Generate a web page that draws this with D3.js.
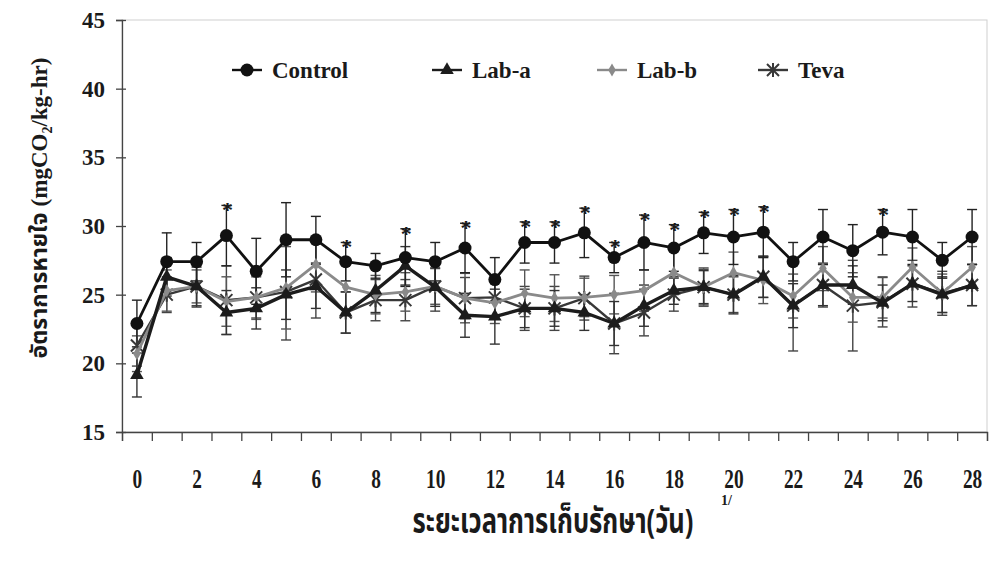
<!DOCTYPE html>
<html>
<head>
<meta charset="utf-8">
<script src="https://cdn.jsdelivr.net/npm/d3@7"></script>
<style>
  body { margin: 0; background: #fff; }
  svg text { font-weight: 700; fill: #1a1a1a; }
</style>
</head>
<body>
<div id="chart"></div>
<script>
var days = [0,1,2,3,4,5,6,7,8,9,10,11,12,13,14,15,16,17,18,19,20,21,22,23,24,25,26,27,28];
var xLabels = [0,2,4,6,8,10,12,14,16,18,20,22,24,26,28];
var yTicks = [15,20,25,30,35,40,45];

var control    = [22.9,27.4,27.4,29.3,26.7,29.0,29.0,27.4,27.1,27.7,27.4,28.4,26.1,28.8,28.8,29.5,27.7,28.8,28.4,29.5,29.2,29.55,27.4,29.2,28.2,29.55,29.2,27.5,29.2];
var controlErr = [1.7,2.1,1.4,2.2,2.4,2.7,1.7,1.4,0.9,2.1,1.4,1.8,1.6,1.5,1.5,1.8,1.1,2.0,1.7,1.5,2.0,1.85,1.4,2.0,1.9,1.65,2.0,1.3,2.0];
var labA       = [19.15,26.3,25.6,23.7,24.0,25.0,25.6,23.7,25.3,27.1,25.55,23.5,23.4,24.0,24.0,23.7,22.9,24.2,25.3,25.55,25.0,26.3,24.2,25.7,25.7,24.4,25.8,25.0,25.7];
var labAErr    = [1.6,1.4,1.5,1.6,1.5,1.8,1.6,1.5,1.6,1.4,1.4,1.6,2.0,1.4,1.3,1.3,1.6,1.5,1.0,1.2,1.4,1.5,1.6,1.5,1.4,1.3,1.3,1.3,1.5];
var labB       = [20.7,25.3,25.6,24.5,24.8,25.5,27.2,25.55,25.0,25.2,25.6,24.75,24.4,25.1,24.75,24.8,25.0,25.3,26.6,25.55,26.6,26.05,24.9,26.9,24.8,24.8,27.0,25.1,27.0];
var labBErr    = [1.3,1.5,1.2,1.8,1.6,3.0,2.0,1.6,1.4,1.4,1.3,1.8,1.5,1.7,1.7,1.4,1.4,1.5,1.6,1.4,1.5,1.7,1.6,1.6,1.8,1.5,1.4,1.4,1.5];
var teva       = [21.3,25.0,25.6,24.6,24.8,25.2,26.1,23.7,24.6,24.6,25.6,24.75,24.8,24.0,24.0,24.75,22.9,23.7,25.0,25.55,25.0,26.3,24.2,25.7,24.2,24.45,25.8,25.1,25.7];
var tevaErr    = [1.5,1.3,1.4,2.5,1.5,3.5,2.8,1.5,1.5,1.5,1.8,1.5,1.6,1.6,1.6,1.6,2.2,1.7,1.2,1.3,1.3,1.5,3.3,1.6,3.3,1.8,1.7,1.6,1.5];
var sigDays    = [3,7,9,11,13,14,15,16,17,18,19,20,21,25];

var serif = "Liberation Serif";
var thai = "'Noto Sans Thai', 'Loma', 'Garuda', 'Noto Sans', sans-serif";

var margin = {top: 20, left: 122},
    width = 865,
    height = 412;

var svg = d3.select("#chart").append("svg")
    .attr("width", 989)
    .attr("height", 564);

var g = svg.append("g").attr("transform", `translate(${margin.left},${margin.top})`);

var x = d3.scaleLinear().domain([-0.5, 28.5]).range([0, width]);
var y = d3.scaleLinear().domain([15, 45]).range([height, 0]);

// light plot-area border
g.append("rect")
    .attr("width", width).attr("height", height)
    .attr("fill", "none").attr("stroke", "#cfcfcf").attr("stroke-width", 1);

// x axis, ticks between categories
var bounds = days.map(function(d){ return d - 0.5; }).concat([28.5]);
g.append("g")
    .attr("transform", `translate(0,${height})`)
    .call(d3.axisBottom(x).tickValues(bounds).tickSize(9).tickFormat(""))
    .call(function(a){ a.selectAll("line,path").attr("stroke", "#444").attr("stroke-width", 1.3); });

var xl = g.append("g")
    .attr("transform", `translate(0,${height})`)
    .call(d3.axisBottom(x).tickValues(xLabels).tickSize(0).tickPadding(0));
xl.select(".domain").remove();
xl.attr("font-family", serif);
xl.selectAll("text")
    .attr("font-size", 21).attr("dy", 0)
    .attr("transform", "translate(0,56) scale(0.92,1.3)");

// y axis
var ya = g.append("g")
    .call(d3.axisLeft(y).tickValues(yTicks).tickSize(6).tickPadding(11));
ya.attr("font-family", serif);
ya.selectAll("line,path").attr("stroke", "#444").attr("stroke-width", 1.3);
ya.selectAll(".tick").append("line").attr("x1", 0).attr("x2", 4).attr("stroke", "#444").attr("stroke-width", 1.3);
ya.selectAll("text").attr("font-size", 23);

var series = [
    {name: "Control", values: control, err: controlErr, color: "#111", width: 2.8, marker: "circle", errColor: "#222"},
    {name: "Lab-a", values: labA, err: labAErr, color: "#1c1c1c", width: 3.4, marker: "triangle", errColor: "#333"},
    {name: "Lab-b", values: labB, err: labBErr, color: "#8a8a8a", width: 2.8, marker: "diamond", errColor: "#555"},
    {name: "Teva", values: teva, err: tevaErr, color: "#383838", width: 2.4, marker: "asterisk", errColor: "#444"}
];

var line = d3.line()
    .x(function(d, i){ return x(days[i]); })
    .y(function(d){ return y(d); });

function drawMarker(sel, type, color) {
    if (type === "circle") {
        sel.append("circle").attr("r", 6.5).attr("fill", color);
    } else if (type === "triangle") {
        sel.append("path").attr("d", d3.symbol(d3.symbolTriangle, 80)()).attr("fill", color);
    } else if (type === "diamond") {
        sel.append("path").attr("d", d3.symbol(d3.symbolDiamond, 50)()).attr("fill", color);
    } else {
        sel.append("path").attr("d", "M-6,-6L6,6M-6,6L6,-6M0,-7L0,7")
            .attr("stroke", color).attr("stroke-width", 2).attr("fill", "none");
    }
}

// error bars under the lines
series.slice().reverse().forEach(function(s){
    var eb = g.append("g");
    s.values.forEach(function(v, i){
        var cx = x(days[i]), e = s.err[i];
        eb.append("line").attr("x1", cx).attr("x2", cx).attr("y1", y(v - e)).attr("y2", y(v + e))
            .attr("stroke", s.errColor).attr("stroke-width", 1.4);
        [v - e, v + e].forEach(function(t){
            eb.append("line").attr("x1", cx - 5).attr("x2", cx + 5).attr("y1", y(t)).attr("y2", y(t))
                .attr("stroke", s.errColor).attr("stroke-width", 1.4);
        });
    });
});

series.slice().reverse().forEach(function(s){
    g.append("path").datum(s.values)
        .attr("fill", "none").attr("stroke", s.color).attr("stroke-width", s.width)
        .attr("stroke-linejoin", "round")
        .attr("d", line);
    g.selectAll(null).data(s.values).enter().append("g")
        .attr("transform", function(d, i){ return `translate(${x(days[i])},${y(d)})`; })
        .each(function(){ drawMarker(d3.select(this), s.marker, s.color); });
});

// significance marks over Control
g.selectAll(".star").data(sigDays).enter().append("text")
    .attr("class", "star")
    .attr("x", function(d){ return x(d) + 1; })
    .attr("y", function(d){ return y(control[d] + controlErr[d]) + 12; })
    .attr("text-anchor", "middle")
    .attr("font-size", 22)
    .attr("font-family", serif)
    .text("*");

// legend
var legendX = [232, 432, 597, 758];
var lg = svg.append("g").attr("transform", "translate(0,70)");
series.forEach(function(s, i){
    var it = lg.append("g").attr("transform", `translate(${legendX[i]},0)`);
    it.append("line").attr("x1", 0).attr("x2", 30).attr("stroke", s.color).attr("stroke-width", 2.4);
    var m = it.append("g").attr("transform", "translate(15,0)");
    drawMarker(m, s.marker, s.color);
    it.append("text").attr("x", 40).attr("y", 8).attr("font-size", 23)
        .attr("font-family", serif).text(s.name);
});

// axis titles
svg.append("text")
    .attr("transform", "translate(553,533) scale(0.88,1.2)")
    .attr("text-anchor", "middle")
    .attr("font-size", 29)
    .attr("font-family", thai)
    .text("ระยะเวลาการเก็บรักษา(วัน)");
svg.append("text")
    .attr("x", 721).attr("y", 505)
    .attr("font-size", 14)
    .attr("font-family", serif)
    .text("1/");

var yt = svg.append("text")
    .attr("transform", "translate(47,208) rotate(-90)")
    .attr("text-anchor", "middle")
    .attr("font-size", 23);
yt.append("tspan").attr("font-family", thai).text("อัตราการหายใจ ");
yt.append("tspan").attr("font-family", serif).text("(mgCO");
yt.append("tspan").attr("font-family", serif).attr("font-size", 14).attr("dy", 5).text("2");
yt.append("tspan").attr("font-family", serif).attr("dy", -5).text("/kg-hr)");
</script>
</body>
</html>
